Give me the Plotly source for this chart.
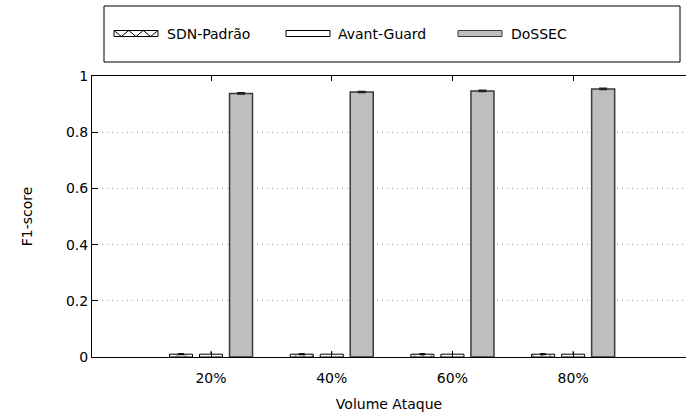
import plotly.graph_objects as go

categories = ["20%", "40%", "60%", "80%"]
series_names = ["SDN-Padrão", "Avant-Guard", "DoSSEC"]
sdn_values = [0.010, 0.010, 0.010, 0.010]
sdn_err = [0.002, 0.002, 0.002, 0.002]
avant_values = [0.010, 0.010, 0.010, 0.010]
avant_err = [0.012, 0.012, 0.012, 0.012]
dossec_values = [0.938, 0.943, 0.947, 0.954]
dossec_err = [0.002, 0.002, 0.002, 0.002]
y_ticks = [0, 0.2, 0.4, 0.6, 0.8, 1]
y_tick_text = ["0", "0.2", "0.4", "0.6", "0.8", "1"]

FONT = "DejaVu Sans"
FS = 14
W, H = 686, 414
ML, MR, MT, MB = 92, 0, 76, 57
PW, PH = W - ML - MR, H - MT - MB

def px(x):
    return (x - ML) / PW

def py(y):
    return (H - MB - y) / PH

fig = go.Figure()
fig.add_trace(go.Bar(
    x=categories, y=sdn_values, name=series_names[0],
    marker=dict(color="white", line=dict(color="black", width=1),
                pattern=dict(shape="x", fgcolor="black", size=6, solidity=0.2)),
    error_y=dict(type="data", array=sdn_err, color="black", thickness=1, width=3),
))
fig.add_trace(go.Bar(
    x=categories, y=avant_values, name=series_names[1],
    marker=dict(color="white", line=dict(color="black", width=1)),
    error_y=dict(type="data", array=avant_err, arrayminus=[0]*4, color="black", thickness=1, width=0),
))
fig.add_trace(go.Bar(
    x=categories, y=dossec_values, name=series_names[2],
    marker=dict(color="#bebebe", line=dict(color="#3a3a3a", width=1.5)),
    error_y=dict(type="data", array=dossec_err, color="#222222", thickness=1.5, width=4),
))

shapes = []
annotations = []
shapes.append(dict(type="rect", xref="paper", yref="paper",
                   x0=px(104), x1=px(680), y0=py(62), y1=py(6),
                   line=dict(color="black", width=1), fillcolor="white", layer="above"))
sym_x = [114, 286, 458]
sym_w = 44
txt_x = [167, 338, 511]
ytop, ybot = 30.5, 36.5
for i, name in enumerate(series_names):
    x0 = sym_x[i]
    x1 = x0 + sym_w
    if i == 2:
        fill, lc = "#bebebe", "#3a3a3a"
    else:
        fill, lc = "white", "black"
    shapes.append(dict(type="rect", xref="paper", yref="paper",
                       x0=px(x0), x1=px(x1), y0=py(ybot), y1=py(ytop),
                       line=dict(color=lc, width=1), fillcolor=fill, layer="above"))
    if i == 0:
        pts = []
        n = 3
        for k in range(n):
            a = x0 + k * sym_w / n
            b = a + sym_w / n / 2
            c = a + sym_w / n
            pts.append(f"M{px(a)},{py(ytop)} L{px(b)},{py(ybot)} L{px(c)},{py(ytop)}")
        shapes.append(dict(type="path", xref="paper", yref="paper", path=" ".join(pts),
                           line=dict(color="black", width=1), layer="above"))
    annotations.append(dict(xref="paper", yref="paper", x=px(txt_x[i]), y=py(33.5),
                            text=name, showarrow=False, xanchor="left", yanchor="middle",
                            xshift=-2, font=dict(family=FONT, size=FS, color="black")))

fig.update_layout(
    width=W, height=H,
    margin=dict(l=ML, r=MR, t=MT, b=MB, autoexpand=False),
    paper_bgcolor="white", plot_bgcolor="white",
    barmode="group", bargap=0.254, bargroupgap=0.233,
    showlegend=False,
    font=dict(family=FONT, size=FS, color="black"),
    shapes=shapes, annotations=annotations,
    xaxis=dict(range=[-0.986, 3.935], showline=True, linecolor="black", linewidth=1,
               mirror="ticks", ticks="inside", ticklen=5, tickcolor="black",
               showgrid=False, zeroline=False, automargin=False,
               ticklabelstandoff=8,
               title=dict(text="Volume Ataque", font=dict(family=FONT, size=FS, color="black"), standoff=14)),
    yaxis=dict(range=[0, 1], tickvals=y_ticks, ticktext=y_tick_text,
               showline=True, linecolor="black", linewidth=1,
               ticks="inside", ticklen=6, tickcolor="black",
               showgrid=True, gridcolor="#9a9a9a", griddash="1px,4px", gridwidth=1,
               zeroline=False, automargin=False,
               title=dict(text="F1-score", font=dict(family=FONT, size=FS, color="black"), standoff=30)),
)

fig.write_html("out.html", config={"displayModeBar": False},
               post_script="document.body.style.margin='0';")
